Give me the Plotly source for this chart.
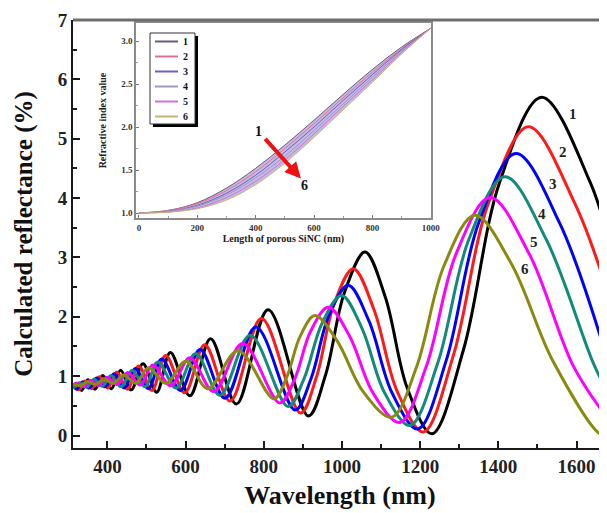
import plotly.graph_objects as go

# ---------------- main chart data (wavelength nm, reflectance %) ----------------
wl_1 = [312, 320, 334, 350, 368, 388, 410, 434, 461, 491, 526, 561, 611, 664, 730, 811, 914, 958, 1006, 1059, 1111, 1167, 1230, 1311, 1404, 1511, 1634, 1678]
r_1 = [0.80, 0.88, 0.76, 0.94, 0.78, 1.01, 0.79, 1.10, 0.77, 1.21, 0.73, 1.40, 0.67, 1.63, 0.53, 2.12, 0.33, 1.02, 2.40, 3.09, 2.33, 0.80, 0.03, 1.45, 4.28, 5.70, 4.28, 3.40]

wl_2 = [312, 327, 342, 360, 379, 401, 424, 451, 480, 514, 549, 598, 649, 714, 794, 894, 935, 979, 1029, 1082, 1141, 1208, 1285, 1375, 1477, 1595, 1678]
r_2 = [0.87, 0.77, 0.92, 0.79, 0.99, 0.80, 1.07, 0.78, 1.17, 0.76, 1.35, 0.72, 1.53, 0.58, 1.97, 0.38, 0.99, 2.20, 2.81, 2.12, 0.75, 0.06, 1.35, 3.92, 5.20, 3.92, 2.45]

wl_3 = [312, 321, 336, 353, 372, 394, 417, 443, 471, 505, 539, 587, 637, 701, 780, 880, 921, 966, 1016, 1069, 1128, 1194, 1267, 1350, 1445, 1556, 1678]
r_3 = [0.85, 0.78, 0.90, 0.80, 0.97, 0.82, 1.04, 0.80, 1.13, 0.79, 1.29, 0.76, 1.45, 0.63, 1.83, 0.43, 0.96, 2.01, 2.53, 1.93, 0.72, 0.11, 1.27, 3.59, 4.75, 3.59, 1.30]

wl_4 = [312, 330, 347, 366, 387, 409, 435, 463, 496, 529, 576, 626, 688, 765, 862, 903, 949, 999, 1051, 1109, 1174, 1245, 1325, 1417, 1522, 1643, 1678]
r_4 = [0.79, 0.89, 0.81, 0.95, 0.83, 1.01, 0.82, 1.10, 0.82, 1.24, 0.80, 1.38, 0.68, 1.69, 0.49, 0.96, 1.89, 2.36, 1.81, 0.72, 0.17, 1.22, 3.31, 4.36, 3.31, 1.22, 0.75]

wl_5 = [312, 322, 339, 357, 377, 399, 424, 452, 484, 516, 562, 611, 672, 746, 841, 879, 920, 965, 1019, 1080, 1148, 1216, 1292, 1379, 1479, 1592, 1678]
r_5 = [0.84, 0.88, 0.82, 0.93, 0.84, 0.98, 0.86, 1.06, 0.85, 1.19, 0.84, 1.31, 0.74, 1.55, 0.55, 0.95, 1.76, 2.16, 1.68, 0.71, 0.22, 1.17, 3.06, 4.01, 3.06, 1.17, 0.30]

wl_6 = [312, 331, 349, 369, 391, 415, 442, 473, 505, 550, 601, 657, 734, 826, 858, 893, 931, 988, 1054, 1127, 1191, 1261, 1340, 1433, 1540, 1662, 1678]
r_6 = [0.87, 0.84, 0.91, 0.86, 0.95, 0.88, 1.02, 0.88, 1.14, 0.88, 1.25, 0.79, 1.43, 0.62, 0.97, 1.67, 2.02, 1.59, 0.74, 0.31, 1.16, 2.86, 3.71, 2.90, 1.25, 0.02, 0.03]

series_names = ["1", "2", "3", "4", "5", "6"]
series_colors = ["#000000", "#ff1a1a", "#0000ff", "#138a7a", "#ff00ff", "#8a8a10"]

# curve label positions (wavelength, reflectance)
label_wl = [1590, 1565, 1539, 1511, 1490, 1468]
label_r = [5.42, 4.78, 4.24, 3.74, 3.26, 2.81]

# ---------------- inset data (length nm, refractive index) ----------------
len_x = [0, 100, 200, 300, 400, 500, 600, 700, 800, 900, 1000]
n_1 = [1.00, 1.03, 1.12, 1.29, 1.52, 1.79, 2.08, 2.38, 2.67, 2.93, 3.15]
n_2 = [1.00, 1.03, 1.11, 1.26, 1.48, 1.75, 2.04, 2.34, 2.64, 2.91, 3.15]
n_3 = [1.00, 1.02, 1.09, 1.23, 1.44, 1.71, 2.00, 2.31, 2.61, 2.90, 3.15]
n_4 = [1.00, 1.02, 1.08, 1.21, 1.41, 1.66, 1.96, 2.27, 2.58, 2.88, 3.15]
n_5 = [1.00, 1.01, 1.06, 1.18, 1.37, 1.62, 1.92, 2.24, 2.55, 2.87, 3.15]
n_6 = [1.00, 1.01, 1.05, 1.15, 1.33, 1.58, 1.88, 2.20, 2.52, 2.85, 3.15]
inset_colors = ["#6a5a7a", "#e07090", "#6a60c0", "#a098c0", "#d070d8", "#c0b870"]

main_wl = [wl_1, wl_2, wl_3, wl_4, wl_5, wl_6]
main_r = [r_1, r_2, r_3, r_4, r_5, r_6]
inset_n = [n_1, n_2, n_3, n_4, n_5, n_6]

SERIF = "Liberation Serif"

# figure is placed in the page with an 8px body margin
FIG_W, FIG_H = 599, 505
M_L, M_R, M_T, M_B = 65, 0, 12, 65
PLOT_W = FIG_W - M_L - M_R
PLOT_H = FIG_H - M_T - M_B
OFF = 8


def px_x(p):
    return (p - OFF - M_L) / PLOT_W


def px_y(p):
    return (FIG_H - M_B - (p - OFF)) / PLOT_H


fig = go.Figure()

for i in range(6):
    fig.add_trace(go.Scatter(
        x=main_wl[i], y=main_r[i], mode="lines",
        line=dict(color=series_colors[i], width=3, shape="spline", smoothing=1.0),
        showlegend=False, xaxis="x", yaxis="y", hoverinfo="skip"))

# inset band fill (between top and bottom curves)
fig.add_trace(go.Scatter(x=len_x, y=n_1, mode="lines", line=dict(width=0, shape="spline"),
                         showlegend=False, xaxis="x2", yaxis="y2", hoverinfo="skip"))
fig.add_trace(go.Scatter(x=len_x, y=n_6, mode="lines", line=dict(width=0, shape="spline"),
                         fill="tonexty", fillcolor="rgba(150,130,205,0.55)",
                         showlegend=False, xaxis="x2", yaxis="y2", hoverinfo="skip"))
for i in range(6):
    fig.add_trace(go.Scatter(
        x=len_x, y=inset_n[i], mode="lines", name=series_names[i],
        line=dict(color=inset_colors[i], width=1, shape="spline"),
        showlegend=False, xaxis="x2", yaxis="y2", hoverinfo="skip"))

axis_col = "#1a1a1a"
fig.update_layout(
    width=FIG_W, height=FIG_H,
    margin=dict(l=M_L, r=M_R, t=M_T, b=M_B),
    paper_bgcolor="white", plot_bgcolor="white",
    font=dict(family=SERIF, color="#111"),
    showlegend=False,
    xaxis=dict(
        domain=[0, 1], range=[312, 1678], anchor="y", automargin=False,
        showline=True, linecolor=axis_col, linewidth=2, mirror=False,
        ticks="inside", ticklen=7, tickwidth=2, tickcolor=axis_col,
        tick0=0, dtick=200, showgrid=False, zeroline=False,
        minor=dict(ticks="inside", ticklen=4, tickwidth=1.5, tickcolor=axis_col, dtick=100, tick0=0, showgrid=False),
        tickfont=dict(family=SERIF, size=19, weight="bold", color="#222"),
        title=dict(text="Wavelength (nm)", font=dict(family=SERIF, size=26, weight="bold", color="#111"), standoff=10),
    ),
    yaxis=dict(
        domain=[0, 1], range=[-0.21, 7.0], anchor="x", automargin=False,
        showline=True, linecolor=axis_col, linewidth=2, mirror=False,
        ticks="inside", ticklen=7, tickwidth=2, tickcolor=axis_col,
        tick0=0, dtick=1, showgrid=False, zeroline=False,
        minor=dict(ticks="inside", ticklen=4, tickwidth=1.5, tickcolor=axis_col, dtick=0.5, tick0=0, showgrid=False),
        tickfont=dict(family=SERIF, size=19, weight="bold", color="#222"),
        title=dict(text="Calculated reflectance (%)", font=dict(family=SERIF, size=25, weight="bold", color="#111"), standoff=18),
    ),
    xaxis2=dict(
        domain=[0.118, 0.670], range=[-10, 1000], anchor="y2", automargin=False,
        showline=True, linecolor="#8a8a8a", linewidth=1.5, mirror=True,
        ticks="inside", ticklen=3, tickwidth=1, tickcolor="#777",
        tick0=0, dtick=200, showgrid=False, zeroline=False,
        minor=dict(ticks="inside", ticklen=2, tickwidth=1, tickcolor="#999", dtick=100, tick0=0, showgrid=False),
        tickfont=dict(family=SERIF, size=9, weight="bold", color="#333"),
        title=dict(text="Length of porous SiNC (nm)", font=dict(family=SERIF, size=10, weight="bold", color="#222"), standoff=2),
    ),
    yaxis2=dict(
        domain=[0.537, 0.993], range=[0.94, 3.21], anchor="x2", automargin=False,
        showline=True, linecolor="#8a8a8a", linewidth=1.5, mirror=True,
        ticks="inside", ticklen=3, tickwidth=1, tickcolor="#777",
        tick0=0, dtick=0.5, tickformat=".1f", showgrid=False, zeroline=False,
        minor=dict(ticks="inside", ticklen=2, tickwidth=1, tickcolor="#999", dtick=0.25, tick0=0, showgrid=False),
        tickfont=dict(family=SERIF, size=9, weight="bold", color="#333"),
        title=dict(text="Refractive index value", font=dict(family=SERIF, size=10, weight="bold", color="#222"), standoff=13),
    ),
)

shapes = []
# top frame line of main chart
shapes.append(dict(type="line", xref="paper", yref="paper", x0=0, x1=1, y0=1, y1=1,
                   line=dict(color="#6e6e6e", width=3)))
# inset legend: shadow + box
shapes.append(dict(type="rect", xref="paper", yref="paper", layer="above",
                   x0=px_x(153), x1=px_x(198), y0=px_y(127), y1=px_y(36),
                   line=dict(width=0), fillcolor="#000"))
shapes.append(dict(type="rect", xref="paper", yref="paper", layer="above",
                   x0=px_x(150), x1=px_x(195), y0=px_y(124), y1=px_y(33),
                   line=dict(width=1, color="#333"), fillcolor="white"))
annotations = []
for i in range(6):
    yy = px_y(41.5 + 15 * i)
    shapes.append(dict(type="line", xref="paper", yref="paper", layer="above",
                       x0=px_x(155), x1=px_x(178), y0=yy, y1=yy,
                       line=dict(color=inset_colors[i], width=2)))
    annotations.append(dict(x=px_x(185), y=yy, xref="paper", yref="paper", text=series_names[i],
                            showarrow=False, xanchor="center", yanchor="middle",
                            font=dict(family=SERIF, size=10, weight="bold", color="#111")))
fig.update_layout(shapes=shapes)

for i in range(6):
    annotations.append(dict(x=label_wl[i], y=label_r[i], xref="x", yref="y", text=series_names[i],
                            showarrow=False, font=dict(family=SERIF, size=15, weight="bold", color="#222")))
# inset arrow 1 -> 6
annotations.append(dict(x=555, y=1.40, ax=428, ay=1.88, xref="x2", yref="y2", axref="x2", ayref="y2",
                        text="", showarrow=True, arrowhead=2, arrowsize=0.8, arrowwidth=4, arrowcolor="#ee1111"))
annotations.append(dict(x=410, y=1.95, xref="x2", yref="y2", text="1", showarrow=False,
                        font=dict(family=SERIF, size=14, weight="bold", color="#111")))
annotations.append(dict(x=568, y=1.32, xref="x2", yref="y2", text="6", showarrow=False,
                        font=dict(family=SERIF, size=14, weight="bold", color="#111")))
fig.update_layout(annotations=annotations)

fig.write_html("out.html")
